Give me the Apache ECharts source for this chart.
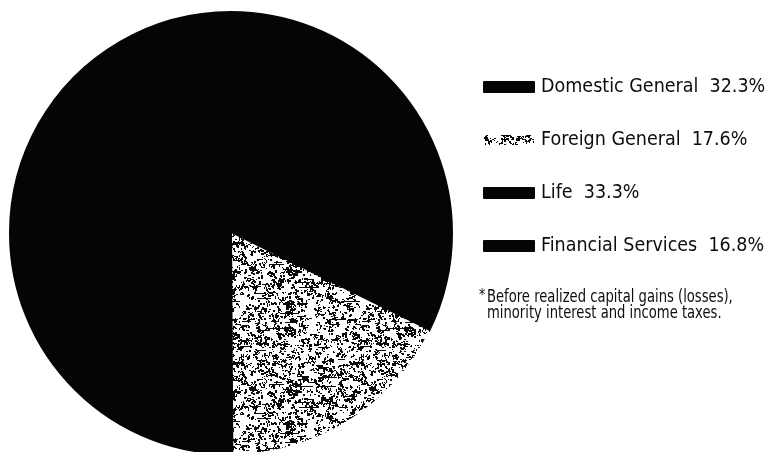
<!DOCTYPE html>
<html>
<head>
<meta charset="utf-8">
<script src="https://cdn.jsdelivr.net/npm/echarts@6/dist/echarts.min.js"></script>
<style>
  html, body { margin: 0; padding: 0; background: #fff; }
  #chart { width: 771px; height: 452px; }
</style>
</head>
<body>
<div id="chart"></div>
<script>
// Operating income by segment, share of total (%)
const segments = ['Domestic General', 'Foreign General', 'Life', 'Financial Services'];
const shares = [32.3, 17.6, 33.3, 16.8];
const footnoteLines = ['Before realized capital gains (losses),', 'minority interest and income taxes.'];

const FONT = '"DejaVu Sans Condensed", "Liberation Sans", sans-serif';

// Printed-screen speckle texture for the Foreign General wedge
function speckle() {
  const size = 120;
  const c = document.createElement('canvas');
  c.width = size; c.height = size;
  const g = c.getContext('2d');
  g.fillStyle = '#ffffff';
  g.fillRect(0, 0, size, size);
  g.fillStyle = '#0a0a0a';
  let s = 2024;
  const next = () => { s = (s * 1103515245 + 12345) & 0x7fffffff; return s / 0x7fffffff; };
  // clumped dots
  for (let i = 0; i < 950; i++) {
    const cx = next() * size, cy = next() * size;
    const n = 2 + Math.floor(next() * 5);
    for (let k = 0; k < n; k++) {
      const x = Math.floor(cx + (next() - 0.5) * 5);
      const y = Math.floor(cy + (next() - 0.5) * 4);
      g.fillRect((x + size) % size, (y + size) % size, 1 + Math.floor(next() * 2), 1 + Math.floor(next() * 2));
    }
  }
  // faint horizontal streaks
  for (let i = 0; i < 40; i++) {
    const y = Math.floor(next() * size);
    const x = Math.floor(next() * size);
    g.fillRect(x, y, 6 + Math.floor(next() * 14), 1);
  }
  return c;
}

const BLACK = '#050505';
const fills = [BLACK, { image: speckle(), repeat: 'repeat' }, BLACK, BLACK];

const chart = echarts.init(document.getElementById('chart'), null, { renderer: 'canvas' });
chart.setOption({
  backgroundColor: '#ffffff',
  animation: false,
  legend: {
    orient: 'vertical',
    left: 483,
    top: 77,
    padding: 0,
    icon: 'rect',
    itemWidth: 50,
    itemHeight: 10,
    itemGap: 33,
    selectedMode: false,
    data: segments,
    formatter: name => name + '  ' + shares[segments.indexOf(name)].toFixed(1) + '%',
    textStyle: { fontFamily: FONT, fontSize: 19.5, color: '#0d0d0d', padding: [0, 0, 0, 2] }
  },
  graphic: [
    {
      type: 'text', x: 479, y: 288, scaleX: 0.86,
      style: { text: '*', fontFamily: FONT, fontSize: 16, fill: '#0d0d0d' }
    },
    {
      type: 'text', x: 487, y: 289, scaleX: 0.86,
      style: { text: footnoteLines[0], fontFamily: FONT, fontSize: 17, fill: '#0d0d0d' }
    },
    {
      type: 'text', x: 487, y: 305, scaleX: 0.86,
      style: { text: footnoteLines[1], fontFamily: FONT, fontSize: 17, fill: '#0d0d0d' }
    }
  ],
  series: [{
    type: 'pie',
    center: [231, 233],
    radius: 221,
    startAngle: 90,
    clockwise: true,
    label: { show: false },
    labelLine: { show: false },
    emphasis: { disabled: true },
    data: segments.map((n, i) => ({
      name: n,
      value: shares[i],
      itemStyle: i === 1
        ? { color: fills[i], borderWidth: 0 }
        : { color: fills[i], borderColor: BLACK, borderWidth: 2 }
    }))
  }]
});
</script>
</body>
</html>
